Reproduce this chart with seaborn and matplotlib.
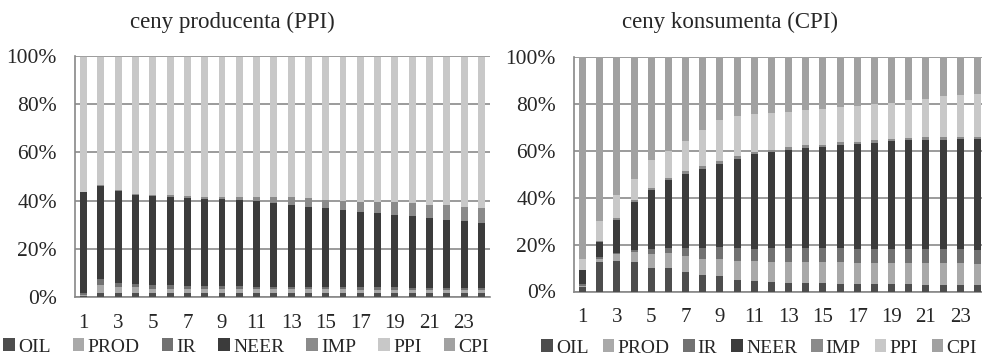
import matplotlib
matplotlib.use("Agg")
import matplotlib.pyplot as plt
from matplotlib.patches import Patch
import seaborn as sns
import numpy as np
import pandas as pd

sns.set_style("white")
plt.rcParams['font.family'] = ['Liberation Serif', 'DejaVu Serif']

periods = list(range(1, 25))
series = ["OIL", "PROD", "IR", "NEER", "IMP", "PPI", "CPI"]
colors = ["#4d4d4d", "#a9a9a9", "#717171", "#3b3b3b", "#8a8a8a", "#c8c8c8", "#a1a1a1"]

# variance decomposition of producer prices (PPI), % of variance
oil_ppi = [0.5, 1.5, 1.5, 1.5, 1.5, 1.5, 1.5, 1.5, 1.5, 1.5, 1.5, 1.5,
           1.5, 1.5, 1.5, 1.5, 1.5, 1.5, 1.5, 1.5, 1.5, 1.5, 1.5, 1.5]
prod_ppi = [0.5, 3.5, 2.5, 2.5, 2.0, 2.0, 2.0, 2.0, 2.0, 1.8, 1.8, 1.8,
            1.8, 1.7, 1.7, 1.7, 1.6, 1.6, 1.6, 1.5, 1.5, 1.5, 1.5, 1.5]
ir_ppi = [0.5, 2.5, 2.0, 1.5, 1.5, 1.3, 1.2, 1.2, 1.1, 1.1, 1.0, 1.0,
          1.0, 1.0, 1.0, 0.9, 0.9, 0.9, 0.9, 0.9, 0.8, 0.8, 0.8, 0.8]
neer_ppi = [42.0, 38.5, 38.0, 36.8, 36.8, 36.8, 36.5, 36.1, 35.9, 35.8, 35.5, 34.9,
            33.9, 33.3, 32.9, 32.0, 31.4, 30.7, 30.0, 29.7, 29.1, 28.2, 27.9, 27.1]
imp_ppi = [0.2, 0.5, 0.4, 0.4, 0.5, 0.7, 0.7, 0.8, 1.1, 1.4, 1.8, 2.4,
           3.4, 3.5, 3.1, 3.7, 4.1, 4.8, 5.3, 5.3, 5.3, 6.2, 5.8, 5.9]
ppi_ppi = [56.0, 53.2, 55.3, 57.0, 57.4, 57.4, 57.8, 58.1, 58.1, 58.1, 58.1, 58.1,
           58.1, 58.7, 59.5, 59.9, 60.2, 60.2, 60.4, 60.8, 61.5, 61.5, 62.2, 62.9]
cpi_ppi = [0.3, 0.3, 0.3, 0.3, 0.3, 0.3, 0.3, 0.3, 0.3, 0.3, 0.3, 0.3,
           0.3, 0.3, 0.3, 0.3, 0.3, 0.3, 0.3, 0.3, 0.3, 0.3, 0.3, 0.3]

# variance decomposition of consumer prices (CPI)
oil_cpi = [2.0, 12.5, 13.0, 12.5, 10.0, 10.0, 8.5, 7.0, 6.5, 5.0, 4.3, 4.0,
           3.8, 3.6, 3.5, 3.4, 3.3, 3.2, 3.1, 3.0, 2.9, 2.8, 2.8, 2.7]
prod_cpi = [0.5, 1.5, 3.0, 4.5, 6.0, 6.5, 6.5, 7.0, 7.5, 8.0, 8.5, 8.7,
            8.8, 8.9, 9.0, 9.0, 9.0, 9.1, 9.1, 9.1, 9.1, 9.2, 9.2, 9.2]
ir_cpi = [0.5, 0.5, 0.5, 0.5, 2.0, 2.0, 3.5, 4.5, 5.0, 5.5, 5.5, 5.8,
          6.0, 6.0, 6.0, 6.0, 6.0, 6.0, 6.0, 6.0, 6.0, 6.0, 6.0, 6.0]
neer_cpi = [6.0, 6.5, 14.0, 20.5, 25.2, 28.9, 31.8, 33.9, 35.5, 38.2, 40.2, 41.0,
            41.9, 42.8, 43.1, 44.2, 44.5, 45.2, 46.0, 46.4, 46.8, 46.8, 47.0, 47.1]
imp_cpi = [0.3, 0.5, 0.8, 1.0, 1.0, 1.0, 1.0, 1.0, 1.0, 1.0, 1.0, 1.0,
           1.0, 1.0, 1.0, 1.0, 1.0, 1.0, 1.0, 1.0, 1.0, 1.0, 1.0, 1.0]
ppi_cpi = [4.7, 8.5, 9.7, 9.0, 11.8, 11.6, 12.7, 15.6, 17.5, 17.3, 16.0, 15.5,
           15.0, 14.9, 15.4, 15.0, 15.2, 15.5, 15.3, 16.0, 16.4, 17.6, 17.6, 18.3]
cpi_cpi = [86.0, 70.0, 59.0, 52.0, 44.0, 40.0, 36.0, 31.0, 27.0, 25.0, 24.5, 24.0,
           23.5, 22.8, 22.0, 21.4, 21.0, 20.0, 19.5, 18.5, 17.8, 16.6, 16.4, 15.7]

panels = [
    ("ceny producenta (PPI)", [oil_ppi, prod_ppi, ir_ppi, neer_ppi, imp_ppi, ppi_ppi, cpi_ppi]),
    ("ceny konsumenta (CPI)", [oil_cpi, prod_cpi, ir_cpi, neer_cpi, imp_cpi, ppi_cpi, cpi_cpi]),
]

W, H = 982, 359
fig = plt.figure(figsize=(W / 100, H / 100), dpi=100)
boxes = [(75, 490, 56, 297), (574, 986, 57, 291.5)]
title_x = [232, 730]
legend_x = [246, 759]
legend_y = [347, 348]
legend_gap = [1.15, 0.72]

for i, (title, vals) in enumerate(panels):
    x0, x1, y0, y1 = boxes[i]
    ax = fig.add_axes([x0 / W, 1 - y1 / H, (x1 - x0) / W, (y1 - y0) / H])
    df = pd.DataFrame(dict(zip(series, vals)), index=periods)
    shares = df.div(df.sum(axis=1), axis=0) * 100
    cum = shares.cumsum(axis=1)
    # draw from the top of the stack downwards
    for s, c in reversed(list(zip(series, colors))):
        sns.barplot(x=periods, y=cum[s].values, color=c, width=0.4,
                    saturation=1, linewidth=0, edgecolor="none", ax=ax, zorder=3)
    ax.set_ylim(0, 100)
    ax.set_xlim(-0.5, 23.5)
    ax.set_yticks(np.arange(0, 101, 20))
    ax.set_yticklabels([f"{v}%" for v in range(0, 101, 20)], fontsize=15.5)
    ax.set_xticks(range(0, 24, 2))
    ax.set_xticklabels([str(p) for p in periods[::2]], fontsize=15)
    ax.set_xticks(np.arange(-0.5, 24, 1), minor=True)
    ax.tick_params(axis="x", which="major", length=0, pad=12)
    ax.tick_params(axis="x", which="minor", length=4, color="#999999", width=0.8)
    ax.tick_params(axis="y", length=5, color="#888888", width=1, pad=8)
    ax.grid(axis="y", color="#8a8a8a", linewidth=1.2, zorder=0)
    ax.set_axisbelow(True)
    for side in ["top", "right"]:
        ax.spines[side].set_visible(False)
    for side in ["left", "bottom"]:
        ax.spines[side].set_color("#888888")
        ax.spines[side].set_linewidth(1.2)
    ax.set_xlabel("")
    ax.set_ylabel("")
    fig.text(title_x[i] / W, 1 - 22 / H, title, ha="center", va="center", fontsize=16.5)
    handles = [Patch(facecolor=c, edgecolor="none") for c in colors]
    ax.legend(handles, series, loc="center", ncol=7, frameon=False,
              bbox_to_anchor=(legend_x[i] / W, 1 - legend_y[i] / H),
              bbox_transform=fig.transFigure, fontsize=14,
              handlelength=0.6, handleheight=0.6, handletextpad=0.15,
              columnspacing=legend_gap[i], borderpad=0)

fig.savefig("out.png", dpi=100)
